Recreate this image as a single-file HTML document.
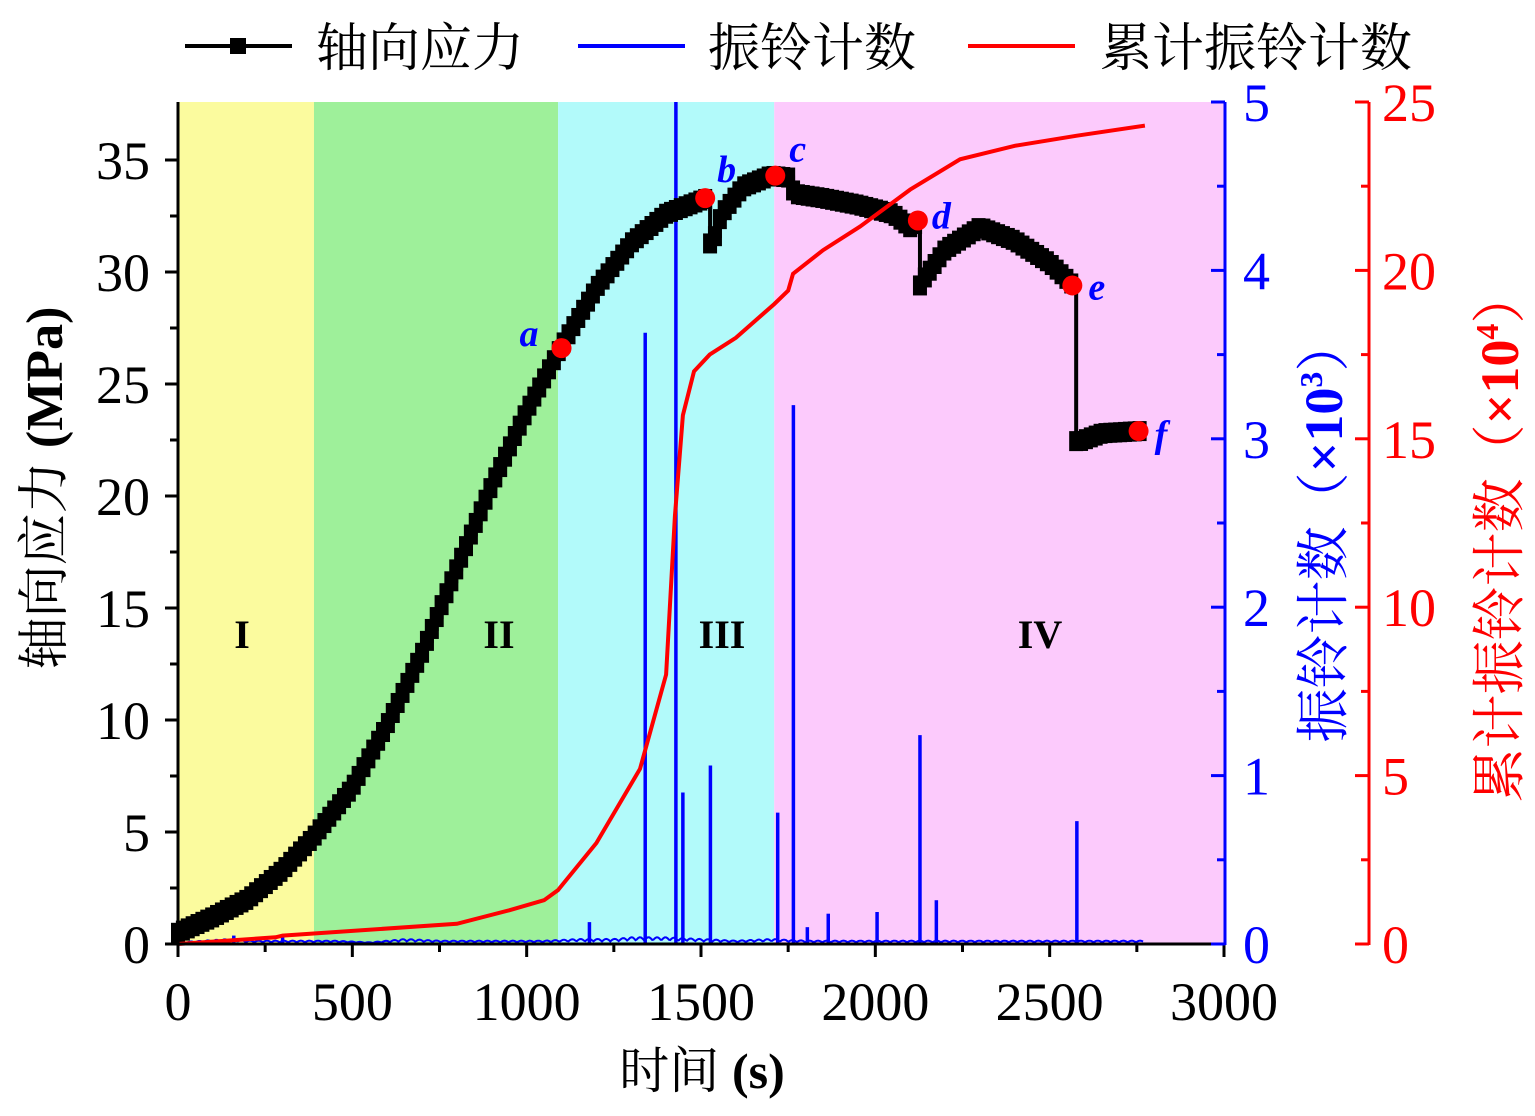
<!DOCTYPE html>
<html><head><meta charset="utf-8">
<style>
html,body{margin:0;padding:0;background:#fff;}
svg{display:block;font-family:"Liberation Serif","Noto Serif CJK SC",serif;}
.cjk{font-family:"Noto Serif CJK SC","Noto Sans CJK SC",serif;}
</style></head>
<body>
<svg id="chart" width="1535" height="1116" viewBox="0 0 1535 1116" xmlns="http://www.w3.org/2000/svg">
<g id="regions"></g>
<g id="series"></g>
<g id="labels"></g>
<g id="axes"></g>
<g id="legend">
  <line x1="185" y1="46" x2="292" y2="46" stroke="#000" stroke-width="4"/>
  <rect x="230" y="38" width="16" height="16" fill="#000"/>
  <text class="cjk" x="316" y="66" font-size="52">轴向应力</text>
  <line x1="578" y1="46" x2="685" y2="46" stroke="#0000ff" stroke-width="4"/>
  <text class="cjk" x="708" y="66" font-size="52">振铃计数</text>
  <line x1="968" y1="46" x2="1075" y2="46" stroke="#ff0000" stroke-width="4"/>
  <text class="cjk" x="1100" y="66" font-size="52">累计振铃计数</text>
</g>
</svg>
<script>
// ---- data ----
const stageBounds = [0, 390, 1090, 1710, 3000];
const stageLabels = ["I", "II", "III", "IV"];
const stressTimes = [0,100,200,300,390,500,600,700,800,900,1000,1100,1200,1300,1400,1500,1520,1528,1535,1545,1560,1620,1700,1760,1765,1850,1950,2050,2100,2120,2124,2130,2200,2300,2400,2500,2568,2572,2580,2650,2760];
const stressValues = [0.5,1.2,2.0,3.3,4.8,7.0,9.8,13.0,16.8,20.5,23.8,26.7,29.3,31.3,32.6,33.2,33.3,30.6,31.2,32.0,32.6,33.8,34.3,34.2,33.5,33.3,33.0,32.6,32.0,32.2,29.2,29.5,31.0,32.0,31.4,30.4,29.4,22.5,22.4,22.8,22.9];
const spikeTimes = [160,300,1180,1340,1428,1448,1527,1720,1765,1805,1865,2005,2128,2175,2578];
const spikeValues = [0.05,0.05,0.13,3.63,5.1,0.9,1.06,0.78,3.2,0.1,0.18,0.19,1.24,0.26,0.73];
const noiseTimes = [0,150,200,250,350,450,550,650,750,850,950,1050,1150,1250,1300,1400,1500,1600,1700,1800,1900,2000,2100,2200,2300,2400,2500,2600,2700,2770];
const noiseValues = [0.01,0.03,0.02,0.02,0.02,0.02,0.01,0.03,0.02,0.02,0.02,0.02,0.03,0.03,0.04,0.04,0.03,0.02,0.03,0.02,0.02,0.02,0.02,0.02,0.02,0.02,0.02,0.02,0.02,0.02];
const cumTimes = [0,280,300,800,950,1050,1090,1200,1325,1400,1425,1448,1480,1525,1600,1710,1750,1764,1850,1956,2100,2243,2400,2578,2773];
const cumValues = [0,0.2,0.25,0.6,1.0,1.3,1.6,3.0,5.2,8.0,12.7,15.7,17.0,17.5,18.0,19.0,19.4,19.9,20.6,21.3,22.4,23.3,23.7,24.0,24.3];
const pointTimes = [1100,1512,1713,2122,2565,2755];
const pointValues = [26.6,33.3,34.3,32.3,29.4,22.9];
const pointLabels = ["a","b","c","d","e","f"];
const xTicks = [0,500,1000,1500,2000,2500,3000];
const yTicks = [0,5,10,15,20,25,30,35];
const blueTicks = [0,1,2,3,4,5];
const redTicks = [0,5,10,15,20,25];

// ---- scales ----
const X0=178, X1=1224, Y0=944, YT=102;
const xs = t => X0 + t*(X1-X0)/3000;
const ys = v => Y0 - v*22.4;
const yb = v => Y0 - v*(Y0-YT)/5;
const yr = v => Y0 - v*(Y0-YT)/25;
const NS="http://www.w3.org/2000/svg";
function mk(tag, attrs, parent){const e=document.createElementNS(NS,tag);for(const k in attrs)e.setAttribute(k,attrs[k]);parent.appendChild(e);return e;}
function interp(ts,vs,t){for(let i=1;i<ts.length;i++){if(t<=ts[i]){const f=(t-ts[i-1])/(ts[i]-ts[i-1]);return vs[i-1]+f*(vs[i]-vs[i-1]);}}return vs[vs.length-1];}

const gR=document.getElementById('regions'), gS=document.getElementById('series'), gA=document.getElementById('axes'), gL=document.getElementById('labels');
const colors=["#fbfb9e","#9ef09a","#b2fafa","#fccafc"];
const labelX=[242,499,722,1040];
for(let i=0;i<4;i++){
  const r=mk('rect',{x:xs(stageBounds[i]),y:YT,width:xs(stageBounds[i+1])-xs(stageBounds[i]),height:Y0-YT,fill:colors[i]},gR);
  
  
  const tx=mk('text',{x:labelX[i],y:648,'font-size':40,'font-weight':'bold','text-anchor':'middle'},gL);
  tx.textContent=stageLabels[i];
  
  
}

// blue noise + spikes
let nd='';
for(let t=0;t<=2770;t+=4){const v=interp(noiseTimes,noiseValues,t)*(0.5+0.5*Math.abs(Math.sin(t*1.7)));nd+=(t?'L':'M')+xs(t).toFixed(1)+','+yb(v).toFixed(1);}
const noise=mk('path',{d:nd,fill:'none',stroke:'#0000ff','stroke-width':2},gS);


for(let i=0;i<spikeTimes.length;i++){
  const l=mk('line',{x1:xs(spikeTimes[i]),x2:xs(spikeTimes[i]),y1:Y0,y2:Math.max(YT,yb(spikeValues[i])),stroke:'#0000ff','stroke-width':3.5},gS);
  
  
}

// stress stepped curve
let sd='';
const tEnd=stressTimes[stressTimes.length-1];
const sq=mk('g',{},gS);


let prev=null;
for(let t=0;t<=tEnd;t+=14){
  const v=interp(stressTimes,stressValues,t);
  const x=xs(t),y=ys(v);
  if(prev===null) sd='M'+x+','+y; else sd+='L'+x+','+prev+'L'+x+','+y;
  prev=y;
  mk('rect',{x:x-7,y:y-10,width:14,height:20,fill:'#000'},sq);
}
const sp=mk('path',{d:sd,fill:'none',stroke:'#000','stroke-width':4},gS);



// cumulative red
let cd='';
for(let i=0;i<cumTimes.length;i++)cd+=(i?'L':'M')+xs(cumTimes[i]).toFixed(1)+','+yr(cumValues[i]).toFixed(1);
const cp=mk('path',{d:cd,fill:'none',stroke:'#ff0000','stroke-width':4},gS);



// key points
for(let i=0;i<pointTimes.length;i++){
  const c=mk('circle',{cx:xs(pointTimes[i]),cy:ys(pointValues[i]),r:10,fill:'#ff0000'},gS);
  
  
  const dx=[-42,12,14,14,16,16][i], dy=[-2,-16,-14,8,14,16][i];
  const tx=mk('text',{x:xs(pointTimes[i])+dx,y:ys(pointValues[i])+dy,'font-size':38,'font-style':'italic','font-weight':'bold',fill:'#0000ff'},gS);
  tx.textContent=pointLabels[i];
  
  
}

// axes
const FS=54;
function line(x1,y1,x2,y2,col,w){return mk('line',{x1,y1,x2,y2,stroke:col,'stroke-width':w||3},gA);}
const la=line(X0,YT,X0,Y0+1,'#000');

const ba=line(X0-1,Y0,X1,Y0,'#000');

for(const v of yTicks){line(X0-13,ys(v),X0,ys(v),'#000');
  const t=mk('text',{x:X0-28,y:ys(v)+19,'font-size':FS,'text-anchor':'end'},gA);t.textContent=v;
  }
for(let v=2.5;v<37;v+=5)line(X0-8,ys(v),X0,ys(v),'#000');
for(const v of xTicks){line(xs(v),Y0,xs(v),Y0+13,'#000');
  const t=mk('text',{x:xs(v),y:1020,'font-size':FS,'text-anchor':'middle'},gA);t.textContent=v;
  }
for(let v=250;v<3000;v+=500)line(xs(v),Y0,xs(v),Y0+8,'#000');
const BX=1225;
const bl=line(BX,YT,BX,Y0+1,'#0000ff');

for(const v of blueTicks){line(BX-14,yb(v),BX,yb(v),'#0000ff');
  const t=mk('text',{x:BX+18,y:yb(v)+19,'font-size':FS,fill:'#0000ff'},gA);t.textContent=v;
  }
for(let v=0.5;v<5;v+=1)line(BX-8,yb(v),BX,yb(v),'#0000ff');
const RX=1369;
const rl=line(RX,YT,RX,Y0+1,'#ff0000');

for(const v of redTicks){line(RX-14,yr(v),RX,yr(v),'#ff0000');
  const t=mk('text',{x:RX+13,y:yr(v)+19,'font-size':FS,fill:'#ff0000'},gA);t.textContent=v;
  }
for(let v=2.5;v<25;v+=5)line(RX-8,yr(v),RX,yr(v),'#ff0000');

// titles
const xt=mk('text',{x:702,y:1088,'font-size':50,'text-anchor':'middle'},gA);
xt.innerHTML='<tspan class="cjk">时间 </tspan><tspan font-weight="bold">(s)</tspan>';

const yt=mk('text',{transform:'translate(62,488) rotate(-90)','font-size':52,'text-anchor':'middle'},gA);
yt.innerHTML='<tspan class="cjk">轴向应力 </tspan><tspan font-weight="bold">(MPa)</tspan>';

const bt=mk('text',{transform:'translate(1342,530) rotate(-90)','font-size':54,'text-anchor':'middle',fill:'#0000ff'},gA);
bt.innerHTML='<tspan class="cjk">振铃计数（</tspan><tspan font-weight="bold">×10</tspan><tspan font-weight="bold" font-size="32" dy="-20">3</tspan><tspan class="cjk" dy="20">）</tspan>';

const rt=mk('text',{transform:'translate(1518,536) rotate(-90)','font-size':54,'text-anchor':'middle',fill:'#ff0000'},gA);
rt.innerHTML='<tspan class="cjk">累计振铃计数（</tspan><tspan font-weight="bold">×10</tspan><tspan font-weight="bold" font-size="32" dy="-20">4</tspan><tspan class="cjk" dy="20">）</tspan>';

</script>
</body></html>
